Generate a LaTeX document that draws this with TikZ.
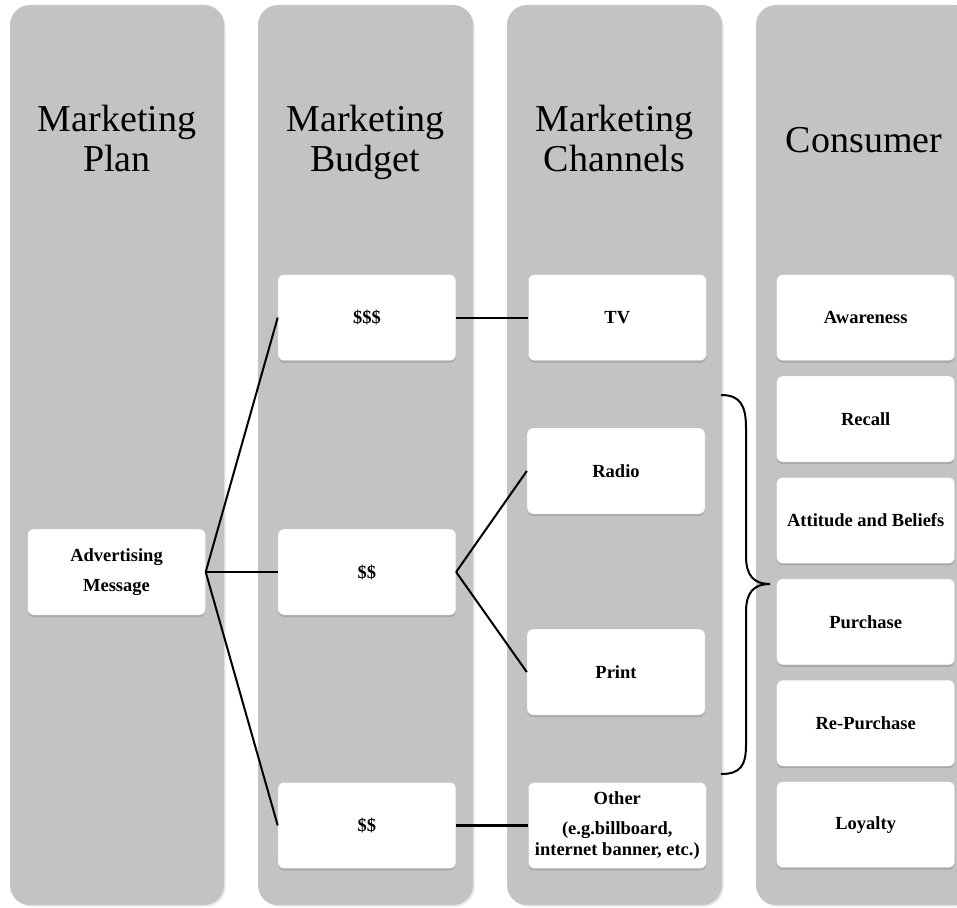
\documentclass[tikz,border=0pt]{standalone}
\usepackage{fontspec}
\setmainfont{Liberation Serif}
\usetikzlibrary{positioning}
\usetikzlibrary{shadows}
\definecolor{lanegray}{RGB}{195,195,195}
\definecolor{boxedge}{RGB}{200,200,200}

\begin{document}
\begin{tikzpicture}[x=1pt, y=-1pt, align=center, lane/.style={fill=lanegray, rounded corners=20pt, drop shadow={shadow xshift=1.5pt, shadow yshift=-1.5pt, opacity=0.25, fill=black!40}}, lanehead/.style={font=\fontsize{38}{40}\selectfont, inner sep=0pt}, mkbox/.style={rectangle, rounded corners=6pt, draw=boxedge, fill=white, minimum width=178pt, minimum height=86pt, inner sep=2pt, font=\bfseries\fontsize{18.5}{21}\selectfont, drop shadow={shadow xshift=0pt, shadow yshift=-2pt, opacity=0.5, fill=black!45}}, link/.style={line width=2pt}, node distance = 72pt]
	\useasboundingbox (0,0) rectangle (957,907);
	\fill[lane] (10,5) rectangle (224,905);
	\fill[lane] (258,5) rectangle (473,905);
	\fill[lane] (507,5) rectangle (722,905);
	\fill[lane] (756,5) rectangle (975,905);
	\node[lanehead, anchor=north] (planhead) at (117,105) {Marketing\\Plan};
	\node[lanehead, anchor=north] (budgethead) at (365.5,105) {Marketing\\Budget};
	\node[lanehead, anchor=north] (channelhead) at (614.5,105) {Marketing\\Channels};
	\node[lanehead] (consumerhead) at (864,140) {Consumer};
	\node[mkbox] (message) at (116.5,572) {Advertising\\[9pt]Message};
	\node[mkbox] (budgetmid) [right = of message] {\$\$};
	\node[mkbox] (budgettop) [above = 168pt of budgetmid] {\$\$\$};
	\node[mkbox] (budgetlow) [below = 167pt of budgetmid] {\$\$};
	\node[mkbox] (tv) [right = of budgettop] {TV};
	\node[mkbox] (radio) at (616,471) {Radio};
	\node[mkbox] (print) at (616,672) {Print};
	\node[mkbox] (other) [right = of budgetlow] {Other\\[9pt](e.g.billboard,\\internet banner, etc.)};
	\node[mkbox] (awareness) [right = 70pt of tv] {Awareness};
	\node[mkbox] (recall) [below = 15pt of awareness] {Recall};
	\node[mkbox] (attitude) [below = 15pt of recall] {Attitude and Beliefs};
	\node[mkbox] (purchase) [below = 15pt of attitude] {Purchase};
	\node[mkbox] (repurchase) [below = 15pt of purchase] {Re-Purchase};
	\node[mkbox] (loyalty) [below = 15pt of repurchase] {Loyalty};
	\draw[link] (message.east) -- (budgettop.west);
	\draw[link] (message.east) -- (budgetmid.west);
	\draw[link] (message.east) -- (budgetlow.west);
	\draw[link] (budgettop) -- (tv);
	\draw[link] (budgetmid.east) -- (radio.west);
	\draw[link] (budgetmid.east) -- (print.west);
	\draw[link, line width=3pt] (budgetlow) -- (other);
	% brace over the middle consumer steps
	\coordinate (bracetop) at (721,395);
	\coordinate (bracetip) at (770,584);
	\coordinate (bracelow) at (721,774);
	\draw[link] (bracetop) .. controls (740,395) and (746,405) .. (746,428) -- (746,556) .. controls (746,576) and (754,584) .. (bracetip) .. controls (754,584) and (746,592) .. (746,612) -- (746,745) .. controls (746,766) and (740,774) .. (bracelow);
\end{tikzpicture}
\end{document}
